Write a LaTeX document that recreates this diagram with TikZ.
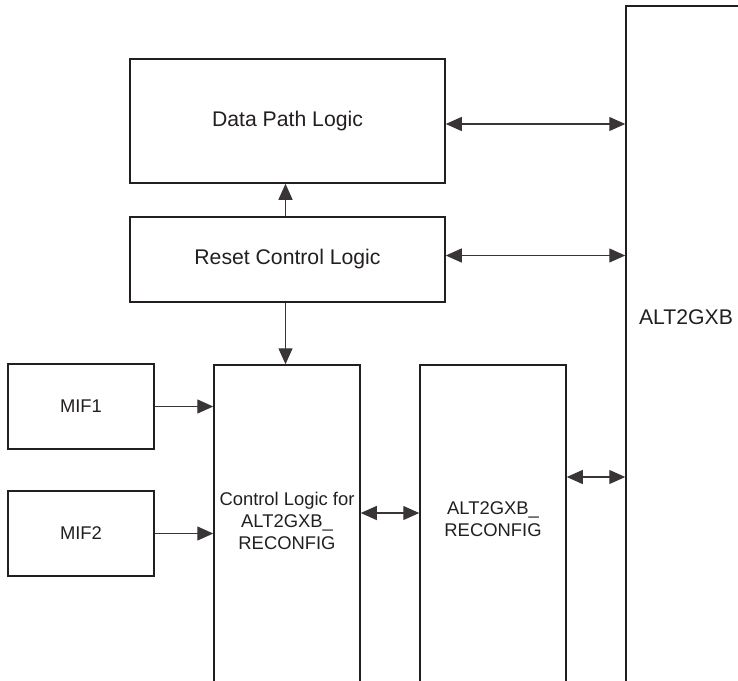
\documentclass[tikz,border=0pt]{standalone}
\usepackage{fontspec}
\setmainfont{Liberation Sans}
\usetikzlibrary{arrows.meta}

\definecolor{ink}{RGB}{35,31,32}
\newcommand{\bigfont}{\fontsize{10.6}{12.5}\selectfont}
\newcommand{\smallfont}{\fontsize{9.2}{11.2}\selectfont}

\tikzset{
	blk/.style={draw=ink, line width=0.75pt, inner sep=0pt, text=ink},
	con/.style={draw=ink!90, line width=0.6pt, -{Triangle[length=8pt,width=7pt]}},
	dcon/.style={con, {Triangle[length=8pt,width=7pt]}-{Triangle[length=8pt,width=7pt]}},
}

\begin{document}
\begin{tikzpicture}[x=0.5pt,y=-0.5pt]
			\useasboundingbox (0,0) rectangle (738,680);
			\clip (0,0) rectangle (738,680);
			\node[blk, font=\bigfont, minimum width=157.5pt, minimum height=62pt] (datapath) at (287.5,121) {Data Path Logic};
			\node[blk, font=\bigfont, minimum width=157.5pt, minimum height=42.5pt] (reset) at (287.5,259.5) {Reset Control Logic};
			\node[blk, font=\smallfont, minimum width=73pt, minimum height=42.5pt] (mif1) at (81,406.5) {MIF1};
			\node[blk, font=\smallfont, minimum width=73pt, minimum height=42.5pt] (mif2) at (81,533.5) {MIF2};
			\node[blk, minimum width=73pt, minimum height=167.5pt,
				label={[font=\smallfont, text=ink, align=center, yshift=5.75pt]center:Control Logic for\\ALT2GXB\_\\RECONFIG}] (ctrl) at (287,532.5) {};
			\node[blk, minimum width=73pt, minimum height=167.5pt,
				label={[font=\smallfont, text=ink, align=center, yshift=6.75pt]center:ALT2GXB\_\\RECONFIG}] (reconf) at (493,532.5) {};
			\node[blk, minimum width=60pt, minimum height=347pt,
				label={[font=\bigfont, text=ink, yshift=18pt]center:ALT2GXB}] (alt) at (686,353) {};
			\coordinate (bus) at (390,513);
			\coordinate (link) at (596,477);
			\draw[dcon] ([yshift=-1.5pt]datapath.east) -- ([yshift=-1.5pt]datapath.east -| alt.west);
			\draw[dcon] ([yshift=2pt]reset.east) -- ([yshift=2pt]reset.east -| alt.west);
			\draw[con] ([xshift=-1pt]reset.north) -- ([xshift=-1pt]datapath.south);
			\draw[con] ([xshift=-1pt]reset.south) -- ([xshift=-1pt]reset.south |- ctrl.north);
			\draw[con] (mif1.east) -- (mif1.east -| ctrl.west);
			\draw[con] (mif2.east) -- (mif2.east -| ctrl.west);
			\draw[dcon] (ctrl.east |- bus) -- (reconf.west |- bus);
			\draw[dcon] (reconf.east |- link) -- (alt.west |- link);
\end{tikzpicture}
\end{document}
